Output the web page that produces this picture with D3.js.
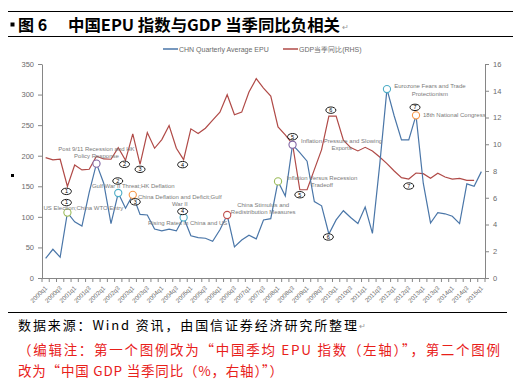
<!DOCTYPE html>
<html><head><meta charset="utf-8">
<script src="https://cdn.jsdelivr.net/npm/d3@7"></script>
<style>body{margin:0;background:#fff} svg{display:block}</style>
</head><body><svg id="c" width="513" height="383"></svg>
<script>
// ---------- data ----------
const categories = ['2000q1','2000q2','2000q3','2000q4','2001q1','2001q2','2001q3','2001q4','2002q1','2002q2','2002q3','2002q4',
'2003q1','2003q2','2003q3','2003q4','2004q1','2004q2','2004q3','2004q4','2005q1','2005q2','2005q3','2005q4',
'2006q1','2006q2','2006q3','2006q4','2007q1','2007q2','2007q3','2007q4','2008q1','2008q2','2008q3','2008q4',
'2009q1','2009q2','2009q3','2009q4','2010q1','2010q2','2010q3','2010q4','2011q1','2011q2','2011q3','2011q4',
'2012q1','2012q2','2012q3','2012q4','2013q1','2013q2','2013q3','2013q4','2014q1','2014q2','2014q3','2014q4','2015q1'];
const epu = [32,47,34,107,92,85,140,187,155,89,139,114,136,104,103,80,77,80,77,99,69,66,65,60,79,103,51,62,70,64,95,97,158,134,218,205,191,125,118,72,95,110,99,89,116,73,185,309,265,226,226,266,155,90,107,105,101,89,154,150,174];
const gdp = [9.0,8.83,8.88,6.85,8.45,8.08,8.13,9.1,8.9,8.88,9.75,8.8,10.77,8.5,10.87,9.7,10.35,11.4,9.7,8.85,11.15,10.8,11.2,11.8,12.4,13.7,12.2,12.4,13.9,14.9,14.2,13.6,11.3,10.7,10.0,6.6,6.6,8.1,9.6,12.1,12.1,10.3,9.75,9.5,9.77,9.5,9.05,8.55,8.0,7.5,7.4,7.85,7.8,7.45,7.83,7.55,7.4,7.45,7.3,7.3];
const leftTicks = [0,50,100,150,200,250,300,350];
const rightTicks = [0,2,4,6,8,10,12,14,16];
const seriesNames = ['CHN Quarterly Average EPU','GDP当季同比(RHS)'];
const eventCats = ['2000q4','2001q4','2002q3','2003q1','2004q4','2006q2','2008q1','2008q3','2011q4','2012q4'];
const eventLabels = [['US Election;China WTO Entry'],['Post 9/11 Recession and HK','Policy Response'],['Gulf War II Threat;HK Deflation'],
 ['China Deflation and Deficit;Gulf','War II'],['Rising Rates in China and US'],['China Stimulus and','Redistribution Measures'],
 ['Inflation Versus Recession','Tradeoff'],['Inflation Pressure and Slowing','Exports'],['Eurozone Fears and Trade','Protectionism'],['18th National Congress']];
const numLabels = ['1','1','2','2','3','3','4','4','5','5','6','6','7','7'];
const numCats = ['2000q4','2000q4','2002q4','2002q3','2003q2','2003q1','2004q4','2004q4','2008q4','2008q3','2009q4','2009q4','2012q3','2012q4'];
const numSeries = ['gdp','epu','gdp','epu','gdp','epu','gdp','epu','gdp','epu','gdp','epu','gdp','epu'];

// ---------- layout / style ----------
const eventColors = ['#9bbb59','#8064a2','#4bacc6','#f79646','#4bacc6','#c0504d','#9bbb59','#8064a2','#4bacc6','#f79646'];
const eventText = [ {dx:16,dy:[-2.5],a:'middle'},{dx:0,dy:[-12.5,-5.5],a:'middle'},{dx:15,dy:[-5],a:'middle'},
 {dx:47,dy:[4,11],a:'middle'},{dx:4,dy:[8],a:'middle'},{dx:36,dy:[-8,-1],a:'middle'},{dx:44,dy:[-1,6],a:'middle'},
 {dx:49,dy:[-2,5],a:'middle'},{dx:43,dy:[-1,6.5],a:'middle'},{dx:7,dy:[2],a:'start'} ];
const numOff = [ {dx:-1,dy:5},{dx:-1,dy:-10},{dx:-1,dy:4},{dx:-0.5,dy:-12},{dx:0,dy:5},{dx:2.5,dy:7},{dx:-1,dy:5},{dx:-1,dy:-6},
 {dx:0,dy:5},{dx:0,dy:-8},{dx:2,dy:-6},{dx:-0.5,dy:3},{dx:0,dy:7},{dx:-1,dy:-8} ];
const blue = '#4a76a8', red = '#b04a47', axisCol = '#868686', txt = '#6b6b6b';
const font = 'Liberation Sans, Arial, sans-serif';
const cjk = '"Noto Sans CJK SC", sans-serif';

const svg = d3.select('#c');
svg.append('rect').attr('width',513).attr('height',383).attr('fill','#fff');

const x = d3.scaleBand().domain(categories).range([42,485]);
const cx = c => x(c) + x.bandwidth()/2;
const yL = d3.scaleLinear().domain([0,350]).range([278,64]);
const yR = d3.scaleLinear().domain([0,16]).range([278,64]);

// title block
svg.append('line').attr('x1',8).attr('x2',513).attr('y1',11.5).attr('y2',11.5).attr('stroke','#000');
svg.append('line').attr('x1',8).attr('x2',513).attr('y1',36.5).attr('y2',36.5).attr('stroke','#000');
svg.append('rect').attr('x',10.5).attr('y',22.5).attr('width',4).attr('height',4).attr('fill','#000');
svg.append('text').attr('x',18).attr('y',30.5).attr('font-family',cjk).attr('font-weight','bold').attr('font-size',16).text('图 6');
svg.append('text').attr('x',68).attr('y',30.5).attr('font-family',cjk).attr('font-weight','bold').attr('font-size',16)
  .attr('textLength',272).attr('lengthAdjust','spacingAndGlyphs').text('中国EPU 指数与GDP 当季同比负相关');
svg.append('text').attr('x',342).attr('y',30).attr('font-family',font).attr('font-size',8).attr('fill','#999').text('↵');
svg.append('rect').attr('x',11).attr('y',174).attr('width',3).attr('height',3).attr('fill','#000');

// axes
const gL = svg.append('g').attr('transform','translate(42,0)')
  .call(d3.axisLeft(yL).tickValues(leftTicks).tickSize(4).tickSizeOuter(0).tickPadding(4));
const gR = svg.append('g').attr('transform','translate(485,0)')
  .call(d3.axisRight(yR).tickValues(rightTicks).tickSize(4).tickSizeOuter(0).tickPadding(4));
[gL,gR].forEach(g=>{
  g.select('.domain').attr('stroke',axisCol);
  g.selectAll('.tick line').attr('stroke',axisCol);
  g.selectAll('.tick text').attr('fill',txt).attr('font-family',font).attr('font-size',7.5);
});
// bottom axis
const gB = svg.append('g');
gB.append('line').attr('x1',42).attr('x2',485).attr('y1',278.5).attr('y2',278.5).attr('stroke',axisCol);
gB.selectAll('.bt').data(categories.concat(['end'])).join('line')
  .attr('x1',(d,i)=>42+i*x.step()).attr('x2',(d,i)=>42+i*x.step())
  .attr('y1',278.5).attr('y2',282).attr('stroke',axisCol);
gB.selectAll('.bl').data(categories.filter((d,i)=>i%2===0)).join('text')
  .attr('transform',d=>`translate(${cx(d)+0.5},${287}) rotate(-45)`)
  .attr('text-anchor','end').attr('dy','0.35em')
  .attr('font-family',font).attr('font-size',6.2).attr('fill',txt).text(d=>d);

// lines
const lineL = d3.line().x((d,i)=>cx(categories[i])).y(d=>yL(d));
const lineR = d3.line().x((d,i)=>cx(categories[i])).y(d=>yR(d));
svg.append('path').attr('d',lineR(gdp)).attr('fill','none').attr('stroke',red).attr('stroke-width',1.2);
svg.append('path').attr('d',lineL(epu)).attr('fill','none').attr('stroke',blue).attr('stroke-width',1.2);

// legend
svg.append('line').attr('x1',163).attr('x2',178).attr('y1',49).attr('y2',49).attr('stroke',blue).attr('stroke-width',1.5);
svg.append('text').attr('x',179).attr('y',51.5).attr('font-family',font).attr('font-size',7).attr('fill',txt).text(seriesNames[0]);
svg.append('line').attr('x1',283).attr('x2',298).attr('y1',49).attr('y2',49).attr('stroke',red).attr('stroke-width',1.5);
svg.append('text').attr('x',299).attr('y',51.5).attr('font-family',font).attr('font-size',7).attr('fill',txt).text(seriesNames[1]);

// events
eventCats.forEach((c,k)=>{
  const i = categories.indexOf(c);
  const px = cx(c), py = yL(epu[i]);
  svg.append('circle').attr('cx',px).attr('cy',py).attr('r',3.6).attr('fill','#fff')
    .attr('stroke',eventColors[k]).attr('stroke-width',1.1);
  const o = eventText[k];
  eventLabels[k].forEach((t,j)=>{
    svg.append('text').attr('x',px+o.dx).attr('y',py+o.dy[j]).attr('text-anchor',o.a)
      .attr('font-family',font).attr('font-size',6).attr('fill','#7a7a7a').text(t);
  });
});
// numbered ellipses
numLabels.forEach((n,k)=>{
  const i = categories.indexOf(numCats[k]);
  const px = cx(numCats[k]);
  const py = numSeries[k]==='gdp' ? yR(gdp[i]) : yL(epu[i]);
  const ex = px+numOff[k].dx, ey = py+numOff[k].dy;
  svg.append('ellipse').attr('cx',ex).attr('cy',ey).attr('rx',5).attr('ry',3.2)
    .attr('fill','#fff').attr('stroke','#000').attr('stroke-width',0.9);
  svg.append('text').attr('x',ex).attr('y',ey+1.9).attr('text-anchor','middle')
    .attr('font-family',font).attr('font-size',5.5).attr('fill','#000').text(n);
});

// footer
svg.append('line').attr('x1',8).attr('x2',507).attr('y1',312.5).attr('y2',312.5).attr('stroke','#000');
svg.append('text').attr('x',18).attr('y',329.5).attr('font-family',cjk).attr('font-size',13).attr('fill','#000')
  .attr('textLength',339).attr('lengthAdjust','spacing').text('数据来源：Wind 资讯，由国信证券经济研究所整理');
svg.append('text').attr('x',359).attr('y',329).attr('font-family',font).attr('font-size',8).attr('fill','#999').text('↵');
svg.append('text').attr('x',18).attr('y',355).attr('font-family',cjk).attr('font-size',13.5).attr('fill','#e8201a')
  .attr('textLength',482).attr('lengthAdjust','spacing').text('（编辑注：第一个图例改为“中国季均 EPU 指数（左轴）”，第二个图例');
svg.append('text').attr('x',18).attr('y',376).attr('font-family',cjk).attr('font-size',13.5).attr('fill','#e8201a')
  .attr('textLength',265).attr('lengthAdjust','spacing').text('改为“中国 GDP 当季同比（%，右轴）”）');
</script></body></html>
